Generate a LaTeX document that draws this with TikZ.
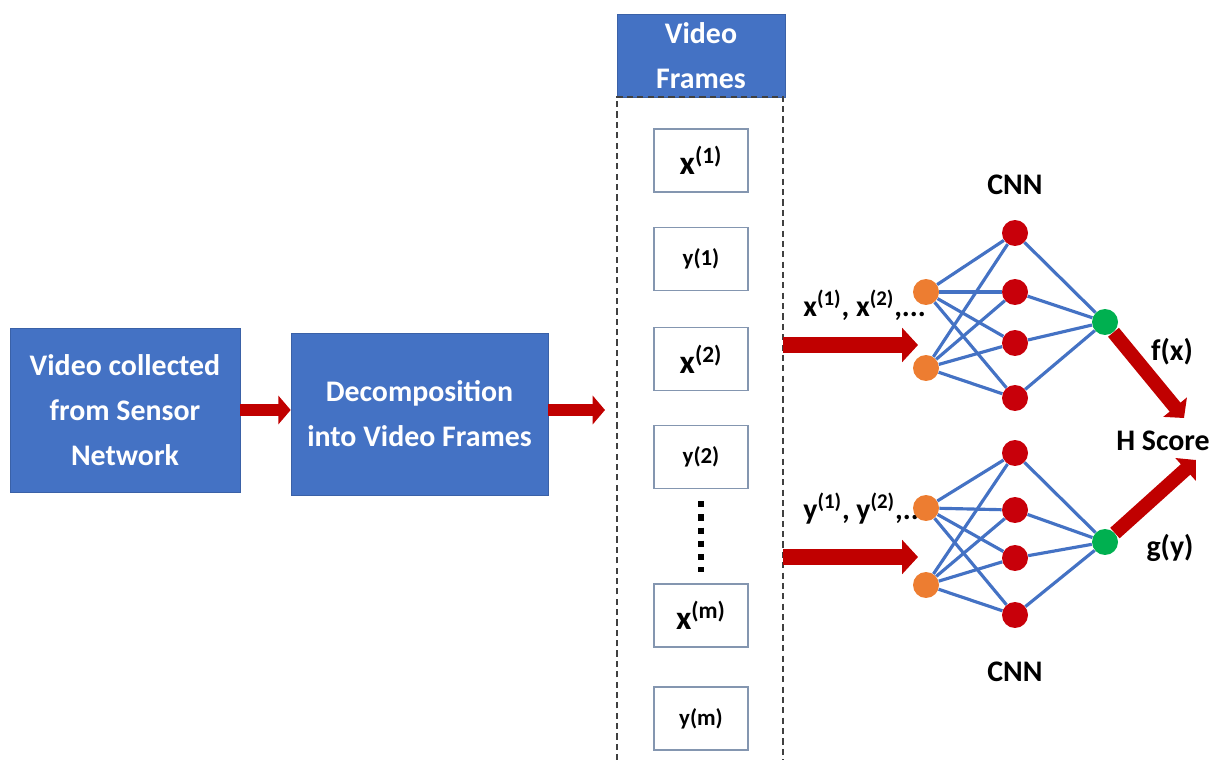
\documentclass[tikz,border=0pt]{standalone}
\usepackage{fontspec}
\setmainfont{Carlito}
\usetikzlibrary{arrows.meta}
\definecolor{boxblue}{HTML}{4472C4}
\definecolor{arrowred}{HTML}{C00000}
\definecolor{neuronred}{HTML}{C8000A}
\definecolor{neuronorange}{HTML}{ED7D31}
\definecolor{neurongreen}{HTML}{00B050}
\definecolor{framegray}{HTML}{8496B0}
\begin{document}
\begin{tikzpicture}[x=0.02cm,y=-0.02cm,
  bluebox/.style={fill=boxblue, draw=boxblue!85!black, line width=0.4pt, text=white,
    font=\fontsize{17}{25.5}\selectfont\bfseries, align=center, inner sep=0pt},
  framebox/.style={draw=framegray, line width=0.8pt, minimum width=1.88cm,
    minimum height=1.26cm, inner sep=0pt, font=\fontsize{19}{22}\selectfont\bfseries},
  smallframe/.style={framebox, font=\fontsize{13}{15}\selectfont\bfseries},
  fatarrow/.style={draw=arrowred, line width=9pt, -{Triangle[length=9pt,width=19pt]}},
  smallarrow/.style={draw=arrowred, line width=7pt, -{Triangle[length=7pt,width=16pt]}},
  outarrow/.style={draw=arrowred, line width=8pt, -{Triangle[length=8pt,width=17pt]}},
  neuron/.style={circle, minimum size=0.52cm, inner sep=0pt},
  inneuron/.style={neuron, fill=neuronorange},
  hidneuron/.style={neuron, fill=neuronred},
  outneuron/.style={neuron, fill=neurongreen},
  link/.style={draw=boxblue, line width=1.8pt},
  lbl/.style={font=\fontsize{17}{20}\selectfont\bfseries, inner sep=0pt},
  colline/.style={draw=black!75, line width=1.1pt, dash pattern=on 3.5pt off 2.4pt},
  dotcol/.style={draw=black, line width=3.5pt, dash pattern=on 3.5pt off 4pt,
    shorten <=0.24cm, shorten >=0.22cm}
]
\useasboundingbox (0,0) rectangle (1218,760);

% pipeline boxes
\node[bluebox, minimum width=4.6cm, minimum height=3.28cm] (b1) at (125,410)
  {Video collected\\from Sensor\\Network};
\node[bluebox, minimum width=5.14cm, minimum height=3.24cm] (b2) at (419.5,414)
  {Decomposition\\into Video Frames};

% frame column
\node[bluebox, minimum width=3.36cm, minimum height=1.66cm] (hdr) at (701,55.5) {Video\\Frames};
\node[minimum width=3.32cm, minimum height=13.26cm, inner sep=0pt] (col) at (700,428.5) {};
\draw[colline] (col.south west) -- (col.north west) -- (col.north east) -- (col.south east);

\node[framebox] (fx1) at (701,160.5) {x\textsuperscript{(1)}};
\node[smallframe] (fy1) at (701,259) {y(1)};
\node[framebox] (fx2) at (701,359) {x\textsuperscript{(2)}};
\node[smallframe] (fy2) at (701,457) {y(2)};
\node[framebox] (fxm) at (701,615.5) {x\textsuperscript{(m)}};
\node[smallframe] (fym) at (701,718.5) {y(m)};
\draw[dotcol] (fy2.south) -- (fxm.north);

% pipeline arrows
\draw[smallarrow] (b1.east) -- (b1.east -| b2.west);
\coordinate (c2) at (605,410);
\draw[smallarrow] (b2.east |- c2) -- (c2);

% labels
\node[lbl, anchor=base west] (xl) at (803,317) {x\textsuperscript{(1)}, x\textsuperscript{(2)},...};
\node[lbl, anchor=base west] (yl) at (803,520) {y\textsuperscript{(1)}, y\textsuperscript{(2)},...};
\node[lbl] (cnn1) at (1015,185) {CNN};
\node[lbl] (cnn2) at (1015,672) {CNN};
\node[lbl] (fxl) at (1172,352) {f(x)};
\node[lbl] (hs) at (1163,441) {H Score};
\node[lbl] (gyl) at (1170,548) {g(y)};

% upper network
\node[inneuron] (o1) at (926,292) {};
\node[inneuron] (o2) at (926,368) {};
\node[hidneuron] (r1) at (1015,233) {};
\node[hidneuron] (r2) at (1015,292) {};
\node[hidneuron] (r3) at (1015,343) {};
\node[hidneuron] (r4) at (1015,398) {};
\node[outneuron] (g1) at (1105,322) {};
\foreach \i in {o1,o2} \foreach \j in {r1,r2,r3,r4} \draw[link] (\i) -- (\j);
\foreach \j in {r1,r2,r3,r4} \draw[link] (\j) -- (g1);

% lower network
\node[inneuron] (o3) at (926,508) {};
\node[inneuron] (o4) at (926,585) {};
\node[hidneuron] (r5) at (1015,453) {};
\node[hidneuron] (r6) at (1015,510) {};
\node[hidneuron] (r7) at (1015,558) {};
\node[hidneuron] (r8) at (1015,615) {};
\node[outneuron] (g2) at (1105,542) {};
\foreach \i in {o3,o4} \foreach \j in {r5,r6,r7,r8} \draw[link] (\i) -- (\j);
\foreach \j in {r5,r6,r7,r8} \draw[link] (\j) -- (g2);

% input arrows into the networks
\coordinate (xa) at (783,345);
\coordinate (xb) at (918,345);
\coordinate (ya) at (783,557);
\coordinate (yb) at (918,557);
\draw[fatarrow] (xa) -- (xb);
\draw[fatarrow] (ya) -- (yb);

% outputs to the score
\coordinate (hs1) at (1184,418);
\coordinate (hs2) at (1196,460);
\draw[outarrow] (g1) -- (hs1);
\draw[outarrow] (g2) -- (hs2);
\end{tikzpicture}
\end{document}
